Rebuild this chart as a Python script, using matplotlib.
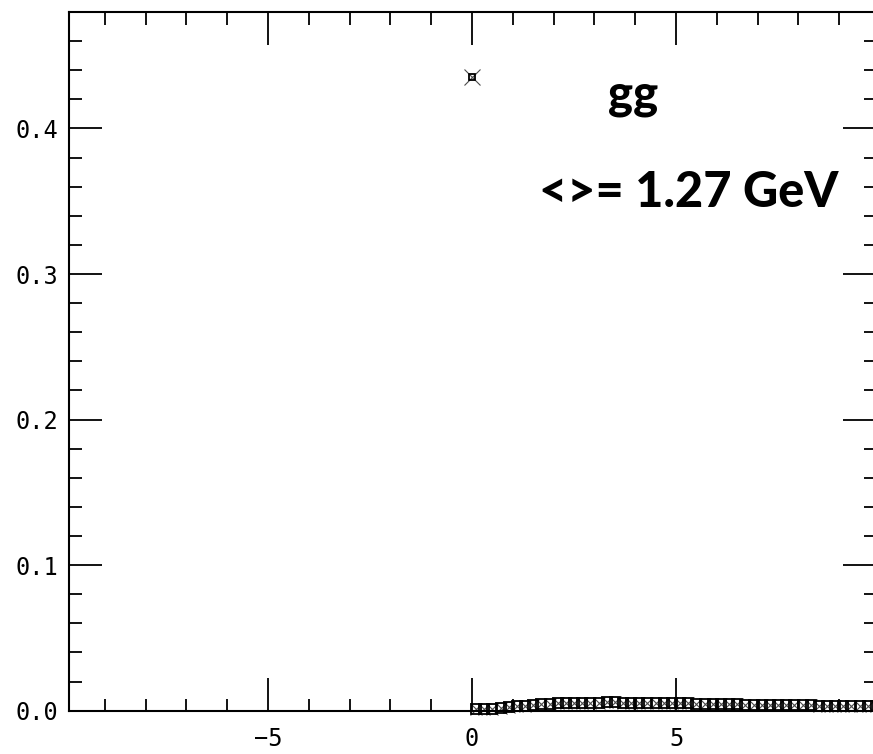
import matplotlib
matplotlib.use("Agg")
import matplotlib.pyplot as plt
import numpy as np

# isolated point at zero
peak_x = [0.0]
peak_y = [0.435]

# small values along the bottom
tail_x = np.round(np.arange(0.1, 10.0, 0.2), 2)
tail_y = [0.0012, 0.0012, 0.0014, 0.0018, 0.0025, 0.0030, 0.0034, 0.0040, 0.0045, 0.0047,
          0.0050, 0.0052, 0.0054, 0.0055, 0.0056, 0.0056, 0.0057, 0.0057, 0.0056, 0.0056,
          0.0056, 0.0055, 0.0055, 0.0054, 0.0053, 0.0052, 0.0050, 0.0049, 0.0047, 0.0046,
          0.0045, 0.0044, 0.0043, 0.0042, 0.0041, 0.0040, 0.0040, 0.0039, 0.0038, 0.0037,
          0.0037, 0.0036, 0.0035, 0.0035, 0.0034, 0.0034, 0.0033, 0.0033, 0.0032, 0.0032]

label_top = "gg"
label_mean = "<>= 1.27 GeV"

fig = plt.figure(figsize=(8.73, 7.54), dpi=100)
ax = fig.add_axes([0.079, 0.0574, 0.9244, 0.9267])

def boxed(x, y, sq, cr):
    ax.plot(x, y, ls="none", marker="s", ms=sq, mfc="none", mec="black", mew=1.3, clip_on=False)
    ax.plot(x, y, ls="none", marker="x", ms=cr, mec="black", mew=0.8, alpha=0.7, clip_on=False)

boxed(peak_x, peak_y, 4.5, 11)
boxed(tail_x, tail_y, 6.5, 9)

ax.set_xlim(-9.88, 9.9)
ax.set_ylim(0, 0.48)
ax.set_xticks([-5, 0, 5])
ax.set_xticks(np.arange(-9, 10, 1), minor=True)
ax.set_yticks([0.0, 0.1, 0.2, 0.3, 0.4])
ax.set_yticks(np.arange(0, 0.48, 0.02), minor=True)
ax.set_yticklabels(["0.0", "0.1", "0.2", "0.3", "0.4"])
ax.set_xticklabels(["\u22125", "0", "5"])

ax.tick_params(which="both", direction="in", top=True, right=True, width=1.3,
               labelsize=17, colors="black")
ax.tick_params(which="major", length=24)
ax.tick_params(which="minor", length=9)
ax.tick_params(axis="x", pad=12)
ax.tick_params(axis="y", pad=8)
for lab in ax.get_xticklabels() + ax.get_yticklabels():
    lab.set_family("DejaVu Sans Mono")
for s in ax.spines.values():
    s.set_linewidth(1.5)

ax.text(3.95, 0.4227, label_top, ha="center", va="center", fontsize=34,
        fontweight="black", family="Lato")
ax.text(5.3, 0.356, label_mean, ha="center", va="center", fontsize=35,
        fontweight="black", family="Lato")

fig.savefig("out.png", dpi=100)
